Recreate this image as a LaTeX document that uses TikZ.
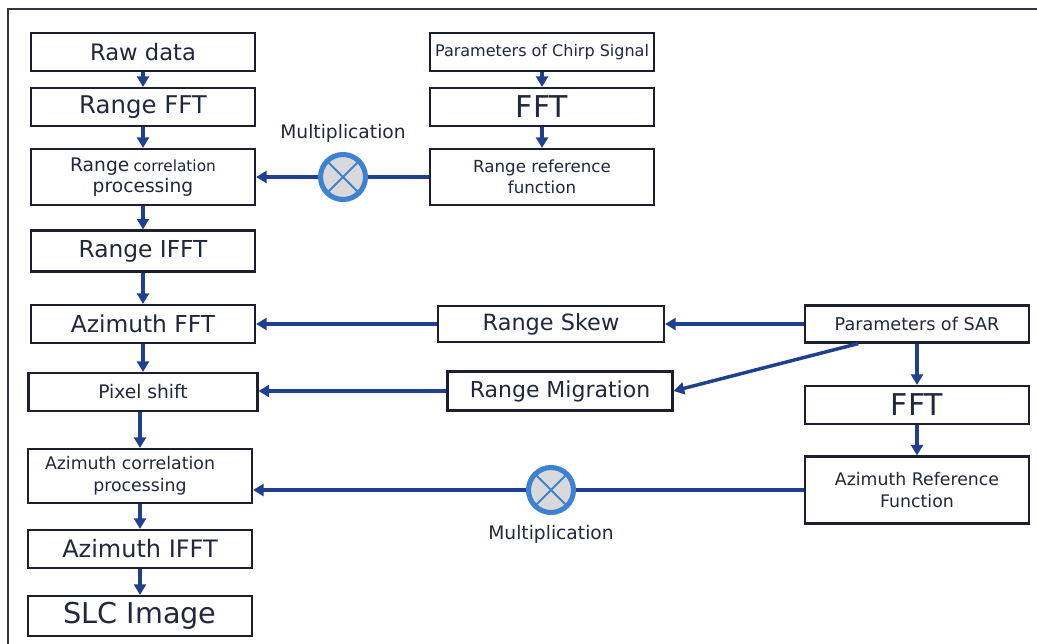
\documentclass[tikz,border=0pt]{standalone}
\usepackage{fontspec}
\setmainfont{DejaVu Sans}
\usepackage{tikz}
\usetikzlibrary{arrows.meta,positioning,calc}
\definecolor{ink}{HTML}{1B1F2E}
\definecolor{txt}{HTML}{22273A}
\definecolor{flow}{HTML}{1F408E}
\definecolor{ring}{HTML}{3D82D0}
\definecolor{disc}{HTML}{D9D9DB}
\newcommand{\fs}[1]{\fontsize{#1}{1.2\dimexpr#1pt\relax}\selectfont}

\begin{document}
\begin{tikzpicture}[x=0.75pt,y=-0.75pt,
  box/.style={draw=ink,line width=1.6pt,fill=white,text=txt,align=center,inner sep=1pt,minimum width=168pt,minimum height=28.5pt},
  big/.style={box,font=\fs{17.5}},
  mid/.style={box,font=\fs{13}},
  arr/.style={-{Triangle[length=8pt,width=9pt]},line width=2.6pt,draw=flow},
  link/.style={line width=2.6pt,draw=flow},
  mult/.style={circle,draw=ring,fill=disc,line width=3.8pt,minimum size=33.75pt,inner sep=0pt},
  cross/.style={draw=ring,line width=1.5pt},
  frame/.style={draw=ink!90,line width=1.8pt}]
\useasboundingbox (0,0) rectangle (1037,643);
\draw[frame] (8,660) |- (1060,9);
% range compression column
\node[big,font=\fs{17}] (raw) at (143,52) {Raw data};
\node[big,font=\fs{18.3}] (rfft) at (143,107) {Range FFT};
\node[box,minimum height=42pt] (rcorr) at (143,177) {{\fs{14}Range} {\fs{11.5}correlation}\\[1pt]{\fs{14}processing}};
\node[big,minimum height=30.75pt] (rifft) at (143,251) {Range IFFT};
\node[big] (afft) at (143,324) {Azimuth FFT};
\node[mid,font=\fs{14},minimum width=171.75pt] (pix) at (143,392) {Pixel shift};
\node[mid,minimum height=40.5pt] (acorr) at (140,476) {Azimuth correlation\hspace*{15pt}\\[1pt]processing};
\node[big,font=\fs{18}] (aifft) at (140,549) {Azimuth IFFT};
\node[big,font=\fs{21.5},minimum height=30pt] (slc) at (140,616) {SLC Image};
\draw[arr] (raw)--(rfft); \draw[arr] (rfft)--(rcorr); \draw[arr] (rcorr)--(rifft);
\draw[arr] (rifft)--(afft); \draw[arr] (afft)--(pix);
\draw[arr] (acorr.north |- pix.south)--(acorr.north); \draw[arr] (acorr)--(aifft); \draw[arr] (aifft)--(slc);
% chirp reference
\node[box,font=\fs{12}] (chirp) at (542,52) {Parameters of Chirp Signal};
\node[box,font=\fs{22.5}] (fft1) at (542,107) {FFT};
\node[mid,font=\fs{12.5},minimum height=42pt] (rref) at (542,177) {Range reference\\[1pt]function};
\draw[arr] (chirp)--(fft1); \draw[arr] (fft1)--(rref);
\node[mult] (mult1) at (343,177) {};
\draw[cross] (mult1.north west)--(mult1.south east); \draw[cross] (mult1.north east)--(mult1.south west);
\node[above=4pt of mult1,text=txt,font=\fs{14}] (mlab1) {Multiplication};
\draw[link] (rref.west)--(mult1); \draw[arr] (mult1)--(mult1 -| rcorr.east);
% SAR parameters
\node[mid,font=\fs{13.2},minimum height=27.75pt] (sar) at (917,324) {Parameters of SAR};
\node[big,font=\fs{16.8},minimum width=169.5pt,minimum height=27pt] (skew) at (551,324) {Range Skew};
\node[big,font=\fs{16.5},minimum width=168.75pt,minimum height=29.25pt] (migr) at (560,391) {Range Migration};
\node[box,font=\fs{22.5}] (fft2) at (917,405) {FFT};
\node[mid,minimum height=50.25pt] (aref) at (917,490) {Azimuth Reference\\[1pt]Function};
\draw[arr] (sar)--(skew); \draw[arr] (skew)--(skew -| afft.east);
\draw[arr] ($(sar.south west)!.24!(sar.south east)$)--(migr.east);
\draw[arr] (migr)--(migr -| pix.east);
\draw[arr] (sar)--(fft2); \draw[arr] (fft2)--(aref);
\node[mult] (mult2) at (551,490) {};
\draw[cross] (mult2.north west)--(mult2.south east); \draw[cross] (mult2.north east)--(mult2.south west);
\node[below=4pt of mult2,text=txt,font=\fs{14}] (mlab2) {Multiplication};
\draw[link] (aref.west)--(mult2); \draw[arr] (mult2)--(mult2 -| acorr.east);
\end{tikzpicture}
\end{document}
